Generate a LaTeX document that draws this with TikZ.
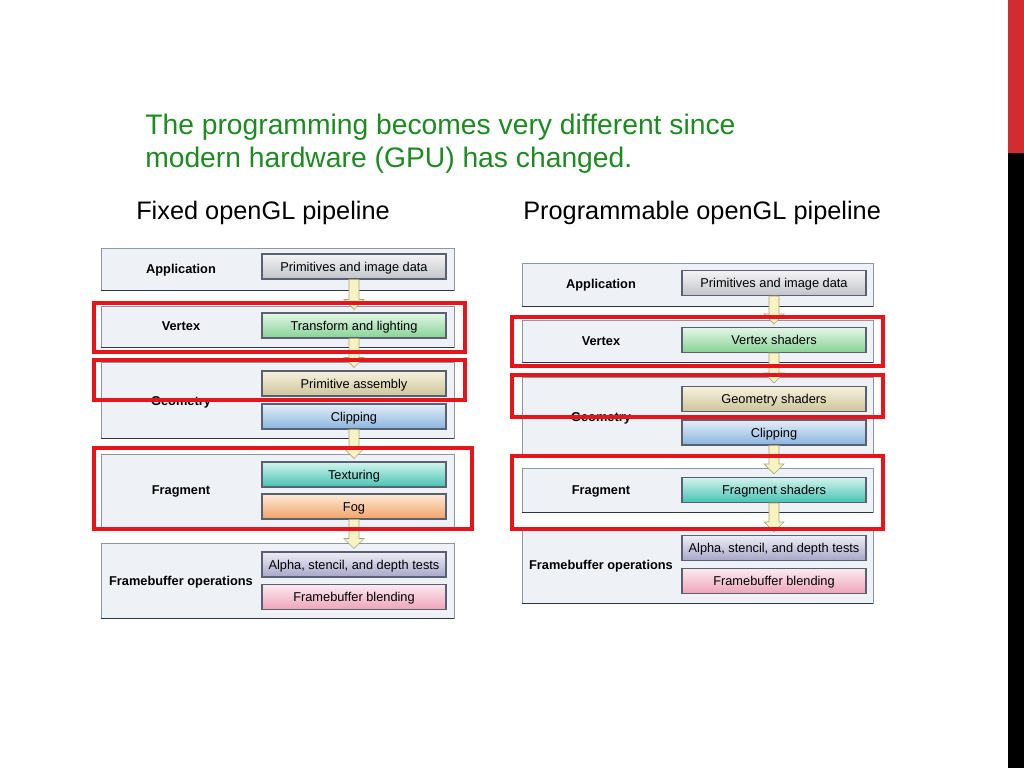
\documentclass[tikz,border=0pt]{standalone}
\usepackage{fontspec}
\setmainfont{Liberation Sans}
\usetikzlibrary{calc,fit}
\definecolor{titlegreen}{HTML}{1E8A22}
\definecolor{panelfill}{HTML}{EEF2F6}
\definecolor{panelline}{HTML}{8C96A4}
\definecolor{panelbot}{HTML}{2E3646}
\definecolor{boxline}{HTML}{5A6070}
\definecolor{boxred}{HTML}{E8141C}
\definecolor{barred}{HTML}{D22B30}
\definecolor{arrfill}{HTML}{F7F3C2}
\definecolor{arrline}{HTML}{ACA67A}
\definecolor{grayT}{HTML}{F4F4F6}\definecolor{grayB}{HTML}{C2C4CA}
\definecolor{greenT}{HTML}{E4F6E6}\definecolor{greenB}{HTML}{86D296}
\definecolor{beigeT}{HTML}{F6F2DE}\definecolor{beigeB}{HTML}{CDC49A}
\definecolor{blueT}{HTML}{E4EEF8}\definecolor{blueB}{HTML}{8AB4DE}
\definecolor{tealT}{HTML}{D2F4EE}\definecolor{tealB}{HTML}{46C2B2}
\definecolor{orangeT}{HTML}{FDEBD8}\definecolor{orangeB}{HTML}{F2A266}
\definecolor{lavT}{HTML}{EEEEF6}\definecolor{lavB}{HTML}{A6A6C8}
\definecolor{pinkT}{HTML}{FCEAF0}\definecolor{pinkB}{HTML}{EDA4BA}
\newcommand{\blockarr}[2]{\draw[arr] ($(#1.south)+(-5,0)$) -- ($(#2.north)+(-5,-13)$) -- ($(#2.north)+(-10,-13)$) -- ($(#2.north)+(0,-3)$) -- ($(#2.north)+(10,-13)$) -- ($(#2.north)+(5,-13)$) -- ($(#1.south)+(5,0)$) -- cycle;}
\newcommand{\pbot}[1]{\draw[pbottom] (#1.south west) -- (#1.south east);}
\begin{document}
\begin{tikzpicture}[x=0.75pt,y=-0.75pt,
  panel/.style={draw=panelline, fill=panelfill, line width=0.6pt, inner sep=0pt, rectangle},
  pbottom/.style={draw=panelbot, line width=1.3pt},
  inbox/.style 2 args={draw=boxline, line width=0.8pt, top color=#1, bottom color=#2, minimum width=138pt, minimum height=18.75pt, inner sep=0pt, text height=6.9pt, text depth=0pt, font=\fontsize{9.6}{11}\selectfont},
  lab/.style={font=\bfseries\fontsize{9.6}{11}\selectfont, inner sep=0pt, text height=6.9pt, text depth=0pt},
  redbox/.style={draw=boxred, line width=2.4pt, inner sep=0pt, rectangle},
  arr/.style={fill=arrfill, draw=arrline, line width=0.5pt},
  ttl/.style={anchor=base west, inner sep=0pt, text=titlegreen, font=\fontsize{21.2}{25}\selectfont},
  head/.style={anchor=base west, inner sep=0pt, font=\fontsize{19}{23}\selectfont}]
\useasboundingbox (0,0) rectangle (1024,768);
\fill[white] (0,0) rectangle (1024,768);
% side bar
\fill[barred] (1008,0) rectangle (1024,153);
\fill[black] (1008,153) rectangle (1024,768);
% titles
\node[ttl] (t1) at (145,134) {The programming becomes very different since};
\node[ttl] (t2) at (145,167) {modern hardware (GPU) has changed.};
\node[head] (hL) at (136,219) {Fixed openGL pipeline};
\node[head] (hR) at (523,219) {Programmable openGL pipeline};
% ---------- left panels ----------
\node[panel, fit={(101,248)(454,290)}] (lpA) {};
\node[panel, fit={(101,306)(454,347)}] (lpV) {};
\node[panel, fit={(101,362)(454,438)}] (lpG) {};
\node[panel, fit={(101,454)(454,527)}] (lpF) {};
\node[panel, fit={(101,543)(454,618)}] (lpB) {};
\pbot{lpA}\pbot{lpV}\pbot{lpG}\pbot{lpF}\pbot{lpB}
\node[lab] (llA) at (181,269) {Application};
\node[lab] (llV) at (181,326) {Vertex};
\node[lab] (llG) at (181,401) {Geometry};
\node[lab] (llF) at (181,490) {Fragment};
\node[lab] (llB) at (181,581) {Framebuffer operations};
\node[inbox={grayT}{grayB}] (lA) at (354,266.5) {Primitives and image data};
\node[inbox={greenT}{greenB}] (lV) at (354,325.5) {Transform and lighting};
\node[inbox={beigeT}{beigeB}] (lG1) at (354,383.5) {Primitive assembly};
\node[inbox={blueT}{blueB}] (lG2) at (354,416.5) {Clipping};
\node[inbox={tealT}{tealB}] (lF1) at (354,474.5) {Texturing};
\node[inbox={orangeT}{orangeB}] (lF2) at (354,506.5) {Fog};
\node[inbox={lavT}{lavB}] (lB1) at (354,564.5) {Alpha, stencil, and depth tests};
\node[inbox={pinkT}{pinkB}] (lB2) at (354,597) {Framebuffer blending};
\blockarr{lA}{lV}
\blockarr{lV}{lG1}
\blockarr{lG2}{lF1}
\blockarr{lF2}{lB1}
% ---------- right panels ----------
\node[panel, fit={(522,263)(873,306)}] (rpA) {};
\node[panel, fit={(522,320)(873,362)}] (rpV) {};
\node[panel, fit={(522,377)(873,455)}] (rpG) {};
\node[panel, fit={(522,468)(873,512)}] (rpF) {};
\node[panel, fit={(522,527)(873,603)}] (rpB) {};
\pbot{rpA}\pbot{rpV}\pbot{rpG}\pbot{rpF}\pbot{rpB}
\node[lab] (rlA) at (601,284) {Application};
\node[lab] (rlV) at (601,341) {Vertex};
\node[lab] (rlG) at (601,417) {Geometry};
\node[lab] (rlF) at (601,490) {Fragment};
\node[lab] (rlB) at (601,565) {Framebuffer operations};
\node[inbox={grayT}{grayB}] (rA) at (774,283) {Primitives and image data};
\node[inbox={greenT}{greenB}] (rV) at (774,340) {Vertex shaders};
\node[inbox={beigeT}{beigeB}] (rG1) at (774,399) {Geometry shaders};
\node[inbox={blueT}{blueB}] (rG2) at (774,432.5) {Clipping};
\node[inbox={tealT}{tealB}] (rF) at (774,490) {Fragment shaders};
\node[inbox={lavT}{lavB}] (rB1) at (774,548) {Alpha, stencil, and depth tests};
\node[inbox={pinkT}{pinkB}] (rB2) at (774,581) {Framebuffer blending};
\blockarr{rA}{rV}
\blockarr{rV}{rG1}
\blockarr{rG2}{rF}
\blockarr{rF}{rB1}
% ---------- red highlight boxes ----------
\node[redbox, fit={(94,303)(465,352)}] (lr1) {};
\node[redbox, fit={(94,360)(465,400)}] (lr2) {};
\node[redbox, fit={(94,448)(472,529)}] (lr3) {};
\node[redbox, fit={(512,317)(883,366)}] (rr1) {};
\node[redbox, fit={(512,375)(883,417)}] (rr2) {};
\node[redbox, fit={(512,456)(883,529)}] (rr3) {};
\end{tikzpicture}
\end{document}
